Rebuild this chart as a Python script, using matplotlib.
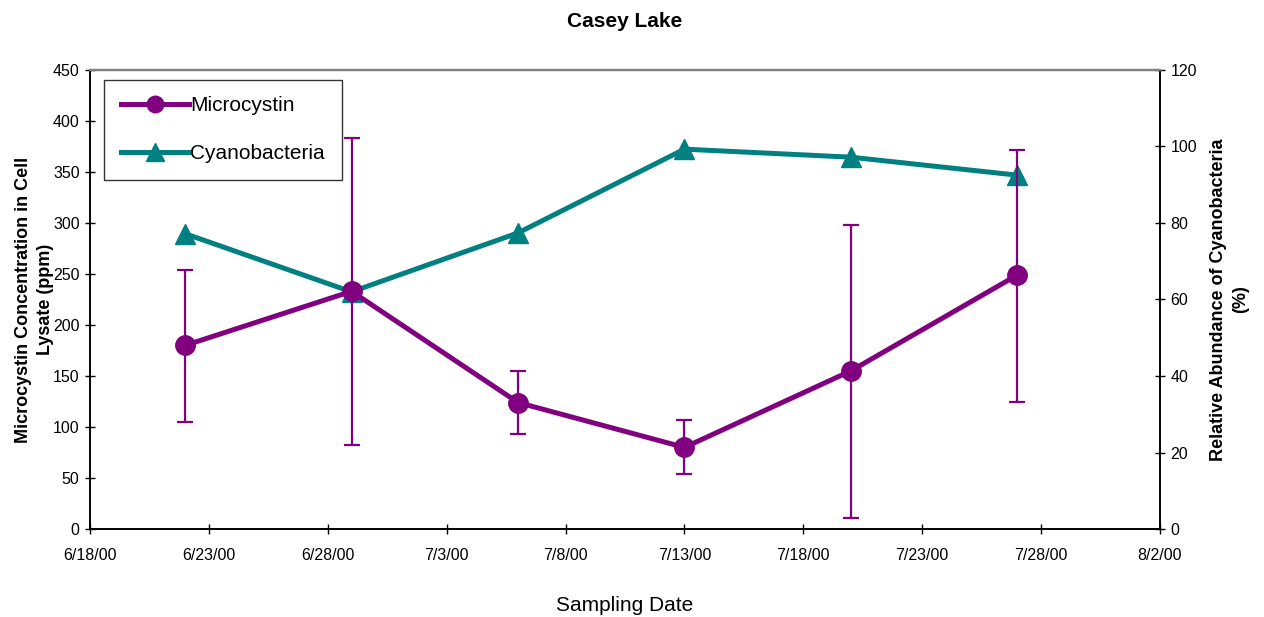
import datetime as dt
import matplotlib
matplotlib.use("Agg")
import matplotlib.pyplot as plt
import matplotlib.dates as mdates
from matplotlib.ticker import FuncFormatter, MultipleLocator

plt.rcParams['font.family'] = ['Liberation Sans', 'DejaVu Sans']

# Sampling data
sample_dates = ["2000-06-22", "2000-06-29", "2000-07-06", "2000-07-13", "2000-07-20", "2000-07-27"]
microcystin = [180, 233, 124, 80, 155, 249]
microcystin_hi = [254, 383, 155, 107, 298, 372]
microcystin_lo = [105, 82, 93, 54, 11, 125]
cyanobacteria = [77.2, 62, 77.4, 99.3, 97.2, 92.5]

x_start, x_end = "2000-06-18", "2000-08-02"

purple = "#800080"
teal = "#008080"

dates = [dt.datetime.strptime(d, "%Y-%m-%d") for d in sample_dates]
err_low = [m - lo for m, lo in zip(microcystin, microcystin_lo)]
err_high = [hi - m for m, hi in zip(microcystin, microcystin_hi)]

fig = plt.figure(figsize=(12.64, 6.17), dpi=100)
ax = fig.add_axes([0.0712, 0.1426, 0.8465, 0.744])
ax2 = ax.twinx()

# Microcystin with error bars
ax.errorbar(dates, microcystin, yerr=[err_low, err_high], fmt='none',
            ecolor=purple, elinewidth=1.6, capsize=6, capthick=1.6, zorder=2)
l1, = ax.plot(dates, microcystin, color=purple, lw=3.6, marker='o',
              markersize=14, label="Microcystin", zorder=3)

# Cyanobacteria on the secondary axis
l2, = ax2.plot(dates, cyanobacteria, color=teal, lw=3.6, marker='^',
               markersize=15, label="Cyanobacteria", zorder=3)

ax.set_xlim(dt.datetime.strptime(x_start, "%Y-%m-%d"), dt.datetime.strptime(x_end, "%Y-%m-%d"))
ax.set_ylim(0, 450)
ax2.set_ylim(0, 120)
ax.yaxis.set_major_locator(MultipleLocator(50))
ax2.yaxis.set_major_locator(MultipleLocator(20))

def date_fmt(x, pos):
    d = mdates.num2date(x)
    return f"{d.month}/{d.day}/{d.strftime('%y')}"

ax.xaxis.set_major_formatter(FuncFormatter(date_fmt))
start_num = mdates.date2num(dt.datetime.strptime(x_start, "%Y-%m-%d"))
ax.set_xticks([start_num + 5 * i for i in range(10)])

for a in (ax, ax2):
    a.tick_params(direction='inout', length=7, width=1, labelsize=11.5, colors='black')
    for s in a.spines.values():
        s.set_linewidth(1.2)
        s.set_color('black')
    a.spines['top'].set_color('#808080')
    a.spines['top'].set_linewidth(1.6)
ax.tick_params(axis='x', pad=10)
ax.tick_params(axis='y', pad=4)
ax2.tick_params(axis='y', pad=4)

ax.set_title("Casey Lake", fontsize=15, fontweight='bold', pad=31)
ax.set_xlabel("Sampling Date", fontsize=15, labelpad=24)
ax.set_ylabel("Microcystin Concentration in Cell\nLysate (ppm)", fontsize=13,
              fontweight='bold', linespacing=1.4)
ax2.set_ylabel("Relative Abundance of Cyanobacteria\n(%)", fontsize=13,
               fontweight='bold', rotation=90, linespacing=1.4)
ax.yaxis.set_label_coords(-0.0335, 0.5)
ax2.yaxis.set_label_coords(1.047, 0.5)

leg = ax.legend([l1, l2], ["Microcystin", "Cyanobacteria"], loc='upper left',
                bbox_to_anchor=(0.013, 0.979), fontsize=15, frameon=True,
                fancybox=False, edgecolor='black', handlelength=3.3,
                handletextpad=0.05, borderpad=0.8, labelspacing=1.4,
                borderaxespad=0, markerscale=0.85)
leg.get_frame().set_linewidth(1.0)
ax.set_zorder(ax2.get_zorder() + 1)
ax.patch.set_visible(False)

fig.savefig("out.png", dpi=100)
